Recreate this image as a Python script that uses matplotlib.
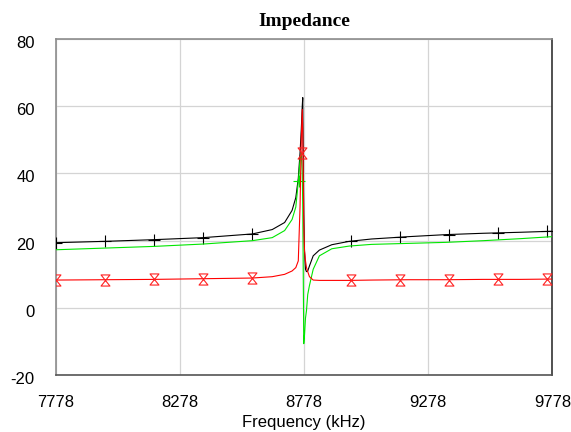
import numpy as np
import matplotlib
matplotlib.use('Agg')
import matplotlib.pyplot as plt
import matplotlib.transforms as mtransforms
from matplotlib.path import Path

plt.rcParams['axes.unicode_minus'] = False

# frequency points (kHz)
freq = [7778, 7976, 8174, 8372, 8570, 8650, 8700, 8730, 8745, 8755, 8762, 8767,
        8771, 8773, 8775, 8777, 8780, 8784, 8788, 8793, 8800, 8815, 8840, 8890,
        8960, 9050, 9200, 9350, 9500, 9650, 9778]

black_vals = [19.4, 19.8, 20.3, 20.9, 22.0, 23.3, 25.4, 29.0, 32.8, 38.5, 46.0, 53.0,
              60.0, 62.5, 45.0, 28.0, 17.0, 11.5, 10.8, 11.0, 12.5, 15.5, 17.2, 18.8,
              19.8, 20.5, 21.2, 21.8, 22.2, 22.5, 22.8]

green_vals = [17.3, 17.8, 18.3, 19.0, 20.0, 20.9, 23.0, 26.3, 30.0, 37.5, 43.7, 46.0,
              40.0, 30.0, 10.0, -10.6, -8.0, -3.0, -0.8, 4.0, 6.7, 11.5, 15.5, 17.6,
              18.4, 18.9, 19.2, 19.5, 20.0, 20.6, 21.2]

red_vals = [8.3, 8.4, 8.5, 8.7, 8.9, 9.3, 10.0, 11.0, 12.0, 14.0, 30.0, 50.0,
            59.0, 52.0, 40.0, 25.0, 17.0, 14.0, 12.0, 10.8, 9.3, 8.3, 8.2, 8.2,
            8.2, 8.3, 8.4, 8.4, 8.5, 8.5, 8.6]

# marker points
black_mark_f = [7778, 7976, 8174, 8372, 8570, 8966, 9164, 9362, 9560, 9758]
black_mark_v = [19.4, 19.8, 20.3, 20.9, 22.0, 20.0, 21.0, 21.7, 22.2, 22.8]
green_mark_f = [8756]
green_mark_v = [37.8]
red_mark_f = [7778, 7976, 8174, 8372, 8570, 8768, 8966, 9164, 9362, 9560, 9758]
red_mark_v = [8.3, 8.4, 8.5, 8.7, 8.9, 46.0, 8.2, 8.3, 8.4, 8.5, 8.6]

xticks = [7778, 8278, 8778, 9278, 9778]
yticks = [-20, 0, 20, 40, 60, 80]

hourglass = Path([(-0.8, 1), (0.8, 1), (-0.8, -1), (0.8, -1), (-0.8, 1)],
                 [Path.MOVETO, Path.LINETO, Path.LINETO, Path.LINETO, Path.CLOSEPOLY])

fig = plt.figure(figsize=(5.71, 4.32), dpi=100)
ax = fig.add_axes([0.0975, 0.1312, 0.8698, 0.7792])

ax.plot(freq, black_vals, color='black', lw=0.8, zorder=3)
ax.plot(freq, green_vals, color='#00e600', lw=0.8, zorder=4)
ax.plot(freq, red_vals, color='#ff0000', lw=0.8, zorder=5)

ax.plot(black_mark_f, black_mark_v, ls='none', marker='+', ms=8, mew=0.8, color='black', zorder=3)
ax.plot(green_mark_f, green_mark_v, ls='none', marker='+', ms=8, mew=0.8, color='#00e600', zorder=4)
ax.plot(red_mark_f, red_mark_v, ls='none', marker=hourglass, ms=8, mew=0.8,
        color='#ff2020', mfc='none', zorder=6)

ax.set_xlim(7778, 9778)
ax.set_ylim(-20, 80)
ax.set_xticks(xticks)
ax.set_yticks(yticks)
ax.tick_params(length=0, labelsize=12, colors='black')
ax.tick_params(axis='x', pad=14)
ax.tick_params(axis='y', pad=15)
for lab in ax.get_xticklabels() + ax.get_yticklabels():
    lab.set_family('Liberation Sans')
offset = mtransforms.ScaledTranslation(0, -3 / 100, fig.dpi_scale_trans)
for lab in ax.get_yticklabels():
    lab.set_transform(lab.get_transform() + offset)

ax.grid(True, color='#d4d4d4', lw=0.9)
ax.set_axisbelow(True)

ax.spines['left'].set_color('#8c8c8c')
ax.spines['top'].set_color('#8c8c8c')
ax.spines['bottom'].set_color('#555555')
ax.spines['right'].set_color('#333333')
for s in ax.spines.values():
    s.set_linewidth(1.2)

ax.set_title('Impedance', family='Liberation Serif', fontweight='bold', fontsize=14, pad=9)
ax.set_xlabel('Frequency (kHz)', family='Liberation Sans', fontsize=12, labelpad=4)

fig.savefig('out.png', dpi=100)
